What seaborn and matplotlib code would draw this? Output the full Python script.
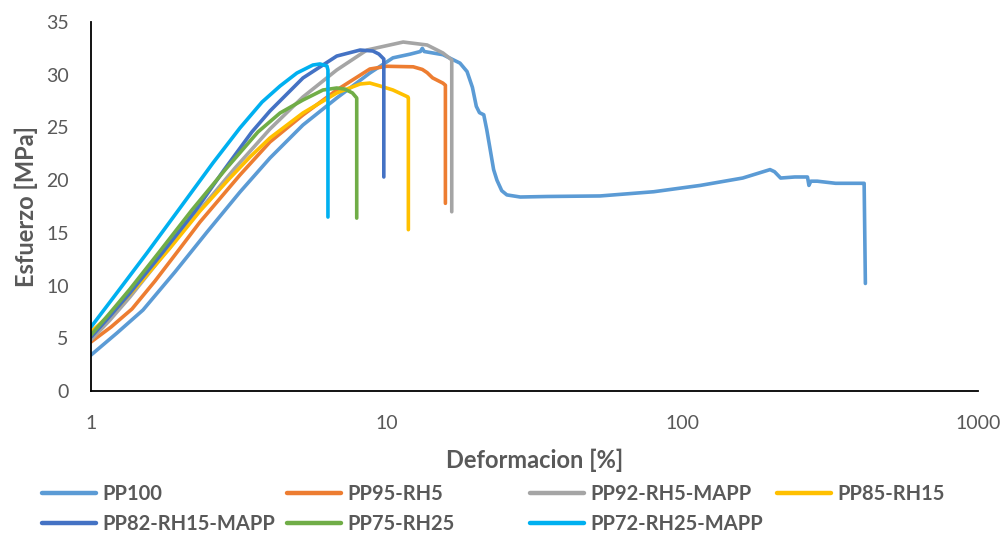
import matplotlib
matplotlib.use("Agg")
import matplotlib.pyplot as plt
import seaborn as sns
import pandas as pd
from matplotlib.lines import Line2D
from matplotlib.ticker import FixedLocator, FixedFormatter, NullLocator

# ---------------- data ----------------
series_names = ["PP100", "PP95-RH5", "PP92-RH5-MAPP", "PP85-RH15",
                "PP82-RH15-MAPP", "PP75-RH25", "PP72-RH25-MAPP"]

pp100_x = [1.0, 1.224, 1.499, 1.923, 2.469, 3.19, 4.03, 5.21, 6.78, 8.77, 10.5, 12.0, 13.0, 13.2, 13.4,
           15.5, 17.7, 18.7, 19.5, 20.1, 20.6, 21.3, 21.8, 22.3, 23.0, 23.6, 24.5, 25.5, 28.3, 35, 52.7,
           80, 115, 160, 198, 205, 215, 240, 265, 268, 272, 286, 330, 408, 412, 416]
pp100_y = [3.41, 5.50, 7.68, 11.29, 15.08, 18.87, 22.10, 25.23, 27.79, 30.16, 31.6, 31.95, 32.2, 32.5, 32.2,
           31.9, 31.1, 30.3, 28.8, 27.0, 26.4, 26.2, 24.8, 23.2, 21.0, 20.0, 19.0, 18.6, 18.4, 18.45, 18.5,
           18.9, 19.5, 20.2, 21.0, 20.8, 20.2, 20.3, 20.3, 19.5, 19.9, 19.9, 19.7, 19.7, 19.7, 10.2]

pp95_x = [1.0, 1.169, 1.376, 1.646, 1.969, 2.337, 3.19, 4.03, 5.21, 6.78, 8.77, 10.0, 12.3, 13.2, 13.7,
          14.3, 15.5, 15.8, 15.8]
pp95_y = [4.65, 6.07, 7.78, 10.43, 13.28, 16.03, 20.49, 23.62, 26.18, 28.55, 30.54, 30.8, 30.75, 30.5,
          30.2, 29.7, 29.2, 29.0, 17.8]

pp92_x = [1.0, 1.159, 1.355, 1.78, 2.318, 3.07, 4.03, 5.21, 6.78, 8.57, 11.37, 13.7, 15.5, 16.6, 16.6]
pp92_y = [4.84, 6.73, 8.92, 13.09, 17.07, 21.15, 24.85, 27.89, 30.45, 32.34, 33.1, 32.82, 32.06, 31.4, 17.0]

pp85_x = [1.0, 1.206, 1.464, 1.85, 2.337, 2.93, 3.45, 4.03, 5.21, 6.78, 8.13, 8.77, 9.5, 10.5, 11.8,
          11.84, 11.84]
pp85_y = [5.60, 7.68, 10.24, 13.56, 17.07, 20.11, 22.20, 24.0, 26.37, 28.27, 29.12, 29.21, 28.93, 28.55,
          27.89, 27.79, 15.3]

pp82_x = [1.0, 1.159, 1.355, 1.752, 2.265, 2.817, 3.50, 4.03, 5.21, 6.78, 8.13, 8.98, 9.41, 9.78, 9.78]
pp82_y = [5.12, 7.11, 9.30, 13.18, 17.17, 20.96, 24.57, 26.56, 29.69, 31.77, 32.34, 32.25, 31.96, 31.49,
          20.3]

pp75_x = [1.0, 1.159, 1.355, 1.712, 2.195, 2.839, 3.67, 4.36, 5.21, 6.09, 6.78, 7.21, 7.66, 7.92, 7.92]
pp75_y = [5.31, 7.40, 9.67, 13.28, 17.17, 20.96, 24.57, 26.37, 27.60, 28.55, 28.74, 28.64, 28.27, 27.79,
          16.4]

pp72_x = [1.0, 1.187, 1.546, 2.0, 2.585, 3.19, 3.79, 4.36, 4.97, 5.63, 5.95, 6.28, 6.33, 6.33]
pp72_y = [6.07, 8.82, 13.09, 17.36, 21.63, 24.95, 27.41, 28.93, 30.16, 30.92, 31.02, 30.83, 30.45, 16.5]

x_ticks = [1, 10, 100, 1000]
x_tick_labels = ["1", "10", "100", "1000"]
y_ticks = [0, 5, 10, 15, 20, 25, 30, 35]

xs = [pp100_x, pp95_x, pp92_x, pp85_x, pp82_x, pp75_x, pp72_x]
ys = [pp100_y, pp95_y, pp92_y, pp85_y, pp82_y, pp75_y, pp72_y]

colors = ["#5B9BD5", "#ED7D31", "#A5A5A5", "#FFC000", "#4472C4", "#70AD47", "#00B0F0"]
palette = dict(zip(series_names, colors))

rows = []
for name, xv, yv in zip(series_names, xs, ys):
    for i, (a, b) in enumerate(zip(xv, yv)):
        rows.append({"serie": name, "idx": i, "x": a, "y": b})
df = pd.DataFrame(rows)

# ---------------- style ----------------
sns.set_theme(style="white")
plt.rcParams["font.family"] = ["Lato", "DejaVu Sans"]
text_color = "#595959"

fig = plt.figure(figsize=(10.06, 5.36), dpi=100)
ax = fig.add_axes([91 / 1006, 1 - 391 / 536, (978 - 91) / 1006, (391 - 22) / 536])

for name in series_names:
    sub = df[df["serie"] == name]
    sns.lineplot(data=sub, x="x", y="y", color=palette[name], lw=2.6,
                 estimator=None, sort=False, ax=ax, legend=False)
for l in ax.lines:
    l.set_solid_joinstyle("round")
    l.set_solid_capstyle("round")

ax.set_xscale("log")
ax.set_xlim(1, 1000)
ax.set_ylim(0, 35)
ax.xaxis.set_major_locator(FixedLocator(x_ticks))
ax.xaxis.set_major_formatter(FixedFormatter(x_tick_labels))
ax.xaxis.set_minor_locator(NullLocator())
ax.set_yticks(y_ticks)

for s in ["top", "right"]:
    ax.spines[s].set_visible(False)
for s in ["left", "bottom"]:
    ax.spines[s].set_color("black")
    ax.spines[s].set_linewidth(1.3)

ax.tick_params(axis="both", which="major", direction="in", length=6, width=1.3,
               color="black", labelcolor=text_color, labelsize=14, pad=16)
ax.tick_params(axis="x", pad=17)

ax.set_xlabel("Deformacion [%]", fontsize=17, fontweight="bold", color=text_color, labelpad=12)
ax.set_ylabel("Esfuerzo [MPa]", fontsize=17, fontweight="bold", color=text_color, labelpad=6)

# legend: 4 columns laid out like the reference
cols = [["PP100", "PP82-RH15-MAPP"], ["PP95-RH5", "PP75-RH25"],
        ["PP92-RH5-MAPP", "PP72-RH25-MAPP"], ["PP85-RH15"]]
col_x = [42, 287, 530, 777]
for names, cx in zip(cols, col_x):
    handles = [Line2D([0], [0], color=palette[n], lw=3.2) for n in names]
    leg = fig.legend(handles, names, loc="upper left",
                     bbox_to_anchor=(cx / 1006, 1 - 484 / 536),
                     frameon=False, borderpad=0, borderaxespad=0,
                     handlelength=2.7, handletextpad=0.3, labelspacing=0.5,
                     prop={"size": 14.5, "weight": "bold"})
    for t in leg.get_texts():
        t.set_color(text_color)

fig.savefig("out.png", dpi=100, facecolor="white")
